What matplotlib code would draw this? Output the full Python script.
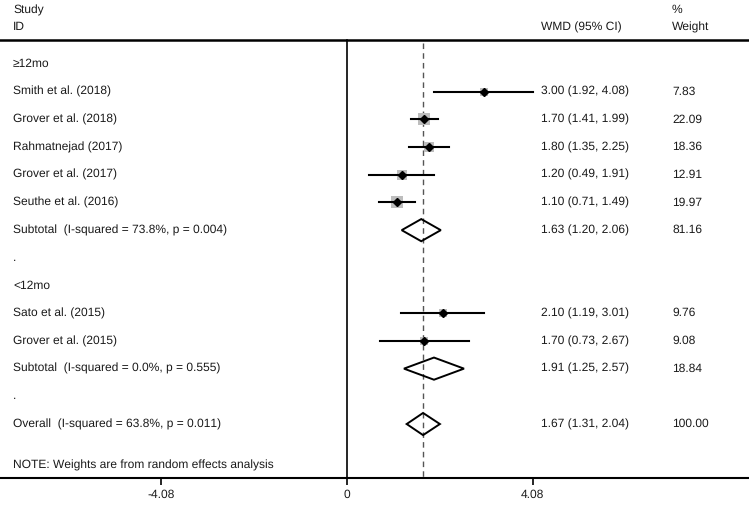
import matplotlib
matplotlib.use("Agg")
import matplotlib.pyplot as plt
from matplotlib.patches import Polygon

plt.rcParams['font.family'] = ['Liberation Sans', 'DejaVu Sans']
plt.rcParams['text.hinting'] = 'no_hinting'
plt.rcParams['text.hinting_factor'] = 1

# ---- data ----
labels = ["≥12mo", "Smith et al. (2018)", "Grover et al. (2018)", "Rahmatnejad (2017)",
          "Grover et al. (2017)", "Seuthe et al. (2016)",
          "Subtotal  (I-squared = 73.8%, p = 0.004)", ".", "<12mo",
          "Sato et al. (2015)", "Grover et al. (2015)",
          "Subtotal  (I-squared = 0.0%, p = 0.555)", ".",
          "Overall  (I-squared = 63.8%, p = 0.011)"]
kind = ["head", "study", "study", "study", "study", "study", "sub", "blank", "head",
        "study", "study", "sub", "blank", "sub"]
est = [None, 3.00, 1.70, 1.80, 1.20, 1.10, 1.63, None, None, 2.10, 1.70, 1.91, None, 1.67]
lo = [None, 1.92, 1.41, 1.35, 0.49, 0.71, 1.20, None, None, 1.19, 0.73, 1.25, None, 1.31]
hi = [None, 4.08, 1.99, 2.25, 1.91, 1.49, 2.06, None, None, 3.01, 2.67, 2.57, None, 2.04]
weight = [None, 7.83, 22.09, 18.36, 12.91, 19.97, 81.16, None, None, 9.76, 9.08, 18.84, None, 100.00]
overall_est = 1.67
xticks = [-4.08, 0, 4.08]
xticklabels = ["-4.08", "0", "4.08"]
note = "NOTE: Weights are from random effects analysis"

fig = plt.figure(figsize=(7.49, 5.11), dpi=100)
ax = fig.add_axes([0, 0, 1, 1])
ax.set_xlim(-7.63, 8.835)
ax.set_ylim(16.14, -2.31)

fs = 8.5
tc = "#1a1a1a"
trans = ax.get_yaxis_transform()
x_lab, x_ci, x_w = 13 / 749, 541 / 749, 672 / 749

# header
ax.text(x_lab, -1.95, "Study", transform=trans, ha="left", va="center", fontsize=fs, color=tc)
ax.text(x_lab, -1.33, "ID", transform=trans, ha="left", va="center", fontsize=fs, color=tc)
ax.text(x_ci, -1.33, "WMD (95% CI)", transform=trans, ha="left", va="center", fontsize=fs, color=tc)
ax.text(x_w, -1.95, "%", transform=trans, ha="left", va="center", fontsize=fs, color=tc)
ax.text(x_w, -1.33, "Weight", transform=trans, ha="left", va="center", fontsize=fs, color=tc)

top_y, bot_y = -0.866, 14.95
ax.axhline(top_y, color="black", lw=1.8)
ax.plot([0, 0], [top_y, bot_y], color="black", lw=1.2)
ax.plot([overall_est, overall_est], [top_y + 0.1, bot_y], color="#555555", lw=1.0,
        ls=(0, (4, 3)))

for i, lab in enumerate(labels):
    ax.text(x_lab, i, lab, transform=trans, ha="left", va="center", fontsize=fs, color=tc)
    if est[i] is None:
        continue
    ax.text(x_ci, i, f"{est[i]:.2f} ({lo[i]:.2f}, {hi[i]:.2f})", transform=trans,
            ha="left", va="center", fontsize=fs, color=tc)
    ax.text(x_w, i, f"{weight[i]:.2f}", transform=trans, ha="left", va="center",
            fontsize=fs, color=tc)
    if kind[i] == "study":
        ax.scatter([est[i]], [i], s=3.3 * weight[i], marker="s", color="#bdbdbd",
                   zorder=2, linewidths=0)
        ax.plot([lo[i], hi[i]], [i, i], color="black", lw=1.5, zorder=3)
        ax.plot([est[i]], [i], marker="D", ms=3.8, color="black", zorder=4)
    else:
        h = 0.4
        poly = Polygon([[lo[i], i], [est[i], i - h], [hi[i], i], [est[i], i + h]],
                       closed=True, fill=False, edgecolor="black", lw=1.4, zorder=3)
        ax.add_patch(poly)

ax.text(x_lab, 14.48, note, transform=trans, ha="left", va="center", fontsize=fs, color=tc)

# bottom axis
for s in ["top", "left", "right"]:
    ax.spines[s].set_visible(False)
ax.spines["bottom"].set_position(("data", bot_y))
ax.spines["bottom"].set_linewidth(1.5)
ax.set_xticks(xticks)
ax.set_xticklabels(xticklabels, fontsize=fs, color=tc)
ax.tick_params(axis="x", direction="out", length=5, width=1.2, pad=3)
ax.set_yticks([])

fig.savefig("out.png", dpi=100)
